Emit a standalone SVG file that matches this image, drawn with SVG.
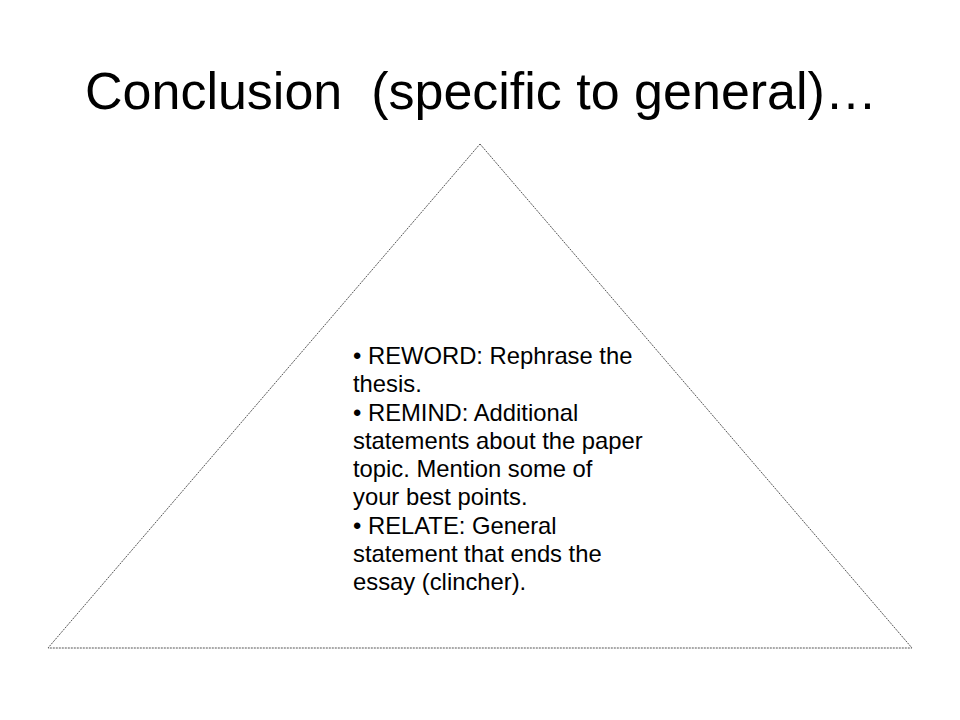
<svg xmlns="http://www.w3.org/2000/svg" width="960" height="720" viewBox="0 0 960 720">
<style>
.title{font-family:"Liberation Sans",Arial,sans-serif;font-size:52px;fill:#000}
.body{font-family:"Liberation Sans",Arial,sans-serif;font-size:23.8px;fill:#000}
.tri{fill:none;stroke:#555;stroke-width:1;stroke-dasharray:2 1}
</style>
<rect width="960" height="720" fill="#fff"/>
<g id="title">
<text class="title" x="85" y="109" xml:space="preserve">Conclusion&#160; (specific to general)…</text>
</g>
<g id="triangle">
<polygon class="tri" points="480,144 912,648 48,648"/>
</g>
<g id="content">
<text class="body" x="353">
<tspan x="353" y="364">• REWORD: Rephrase the</tspan>
<tspan x="353" y="392.3">thesis.</tspan>
<tspan x="353" y="420.5">• REMIND: Additional</tspan>
<tspan x="353" y="448.8">statements about the paper</tspan>
<tspan x="353" y="477">topic. Mention some of</tspan>
<tspan x="353" y="505.3">your best points.</tspan>
<tspan x="353" y="533.5">• RELATE: General</tspan>
<tspan x="353" y="561.8">statement that ends the</tspan>
<tspan x="353" y="590">essay (clincher).</tspan>
</text>
</g>
</svg>
